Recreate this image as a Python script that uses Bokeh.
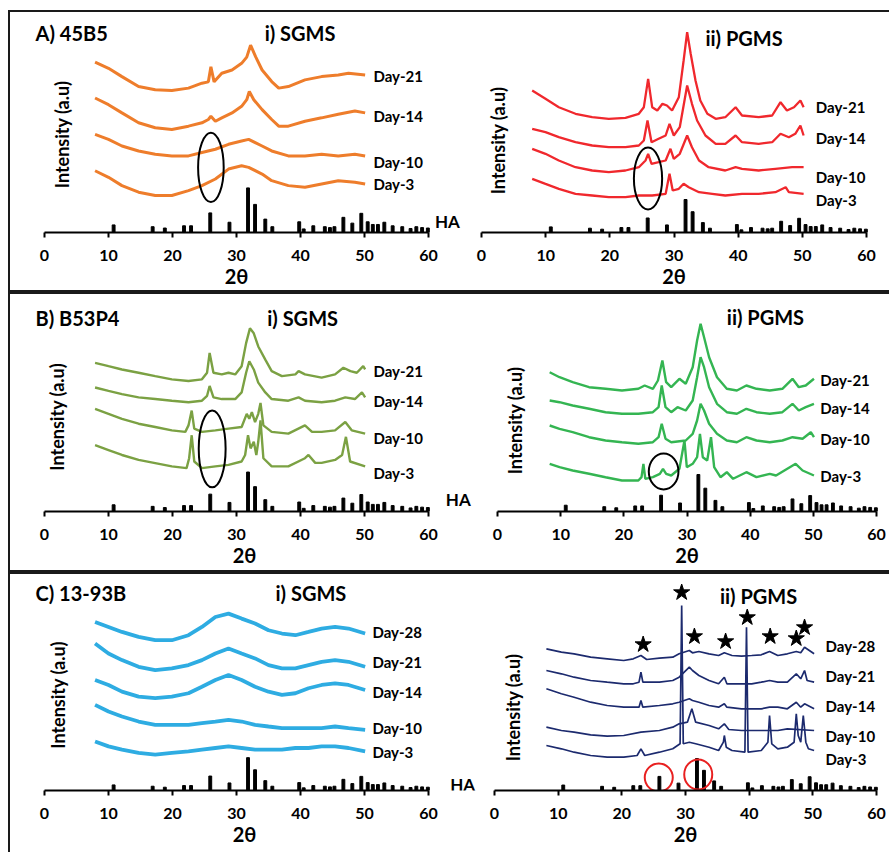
import math
from bokeh.plotting import figure
from bokeh.models import Range1d, FixedTicker
from bokeh.layouts import row, column
from bokeh.core.properties import value
from bokeh.embed import file_html
from bokeh.resources import INLINE

FONT = "Lato"
XTICKS = [0, 10, 20, 30, 40, 50, 60]

# ---------------- HA reference pattern (relative intensity, %) ----------------
HA_POS = [10.8, 16.9, 18.8, 21.8, 22.9, 25.9, 28.9, 31.8, 32.9, 34.5,
          35.6, 39.8, 40.5, 42.0, 43.8, 44.6, 45.3, 46.7, 48.1, 49.5,
          50.5, 51.3, 52.1, 53.1, 54.4, 55.9, 57.2, 58.1, 59.0, 59.9]
HA_INT = [17, 13, 10, 15, 15, 44, 23, 100, 63, 30,
          13, 24, 8, 15, 13, 11, 13, 34, 21, 43,
          24, 18, 18, 23, 15, 13, 9, 13, 11, 10]

# ---------------- A) 45B5  i) SGMS ----------------
A_S_D21_X = [7.9, 10.0, 12.1, 14.7, 17.3, 19.9, 22.5, 24.6, 25.6, 26.0, 26.5, 27.7, 29.3, 30.8, 31.6, 32.2, 33.0, 34.0, 35.5, 36.6, 38.1, 40.7, 43.3, 45.9, 47.5, 50.1]
A_S_D21_Y = [172, 165.7, 157.3, 147.3, 144, 143.3, 145.7, 150.7, 152, 167.3, 152, 160.7, 164, 170.7, 177, 189, 177.3, 164, 152.3, 145.7, 147.3, 154, 157.3, 159, 160.7, 159]
A_S_D14_X = [7.9, 10.0, 12.1, 14.7, 17.3, 19.9, 22.5, 24.6, 25.6, 26.0, 26.7, 27.7, 29.3, 30.8, 31.6, 32.0, 32.7, 34.0, 35.5, 36.6, 38.1, 40.7, 43.3, 45.9, 48.5, 50.1]
A_S_D14_Y = [135.7, 129, 120.7, 110.7, 105.7, 104, 107.3, 110.7, 114, 117.3, 112.3, 115.7, 120.7, 127.3, 134, 142.3, 134, 124, 114, 107.3, 107.3, 112.3, 115.7, 119.3, 122.7, 120.7]
A_S_X = [7.9, 10.0, 12.1, 14.7, 17.3, 19.9, 22.5, 24.6, 26.7, 28.75, 30.8, 31.9, 34.0, 35.5, 38.1, 40.7, 43.3, 45.9, 48.5, 50.1]
A_S_D10_Y = [99, 94, 87.3, 82.3, 79, 77.3, 77.3, 80.7, 84, 89, 92.3, 94, 87.3, 82.3, 77.3, 77.3, 79, 77.3, 79, 77.3]
A_S_D3_Y = [62.3, 55.7, 47.3, 40.7, 37.3, 37.3, 42.3, 47.3, 54, 64, 67.3, 65.7, 59, 52.3, 47.3, 45.7, 49, 52.3, 50.7, 49]

# ---------------- A) 45B5  ii) PGMS ----------------
A_P_D21_X = [7.9, 9.97, 12.05, 14.65, 17.25, 19.84, 22.44, 24.52, 25.3, 25.97, 26.6, 27.4, 28.2, 28.9, 29.7, 30.75, 31.5, 32.05, 32.6, 33.35, 34.1, 35.2, 36.5, 38.0, 39.6, 40.6, 43.2, 45.3, 46.6, 47.6, 48.7, 49.7, 50.2]
A_P_D21_Y = [142, 133.7, 125.3, 118.7, 115.3, 113.7, 114.7, 118.7, 125.3, 153.7, 125.3, 122, 128.7, 127, 122, 135.3, 172, 200.3, 178.7, 152, 132, 118.7, 113.7, 115.3, 125.3, 117, 115.3, 117, 130.3, 122, 125.3, 132, 125.3]
A_P_D14_X = [7.9, 9.97, 12.05, 14.65, 17.25, 19.84, 22.44, 24.52, 25.3, 25.87, 26.5, 27.6, 28.7, 29.3, 29.97, 30.9, 32.05, 32.8, 33.6, 34.9, 36.5, 38.0, 39.6, 40.6, 43.2, 45.3, 46.6, 47.9, 48.9, 49.7, 50.2]
A_P_D14_Y = [103.7, 100.3, 95.3, 90.3, 87, 85.3, 85.3, 87, 92, 112, 90.3, 93.7, 97, 108.7, 97, 105.3, 147, 128.7, 112, 97, 88.7, 88.7, 97, 90.3, 88.7, 90.3, 98.7, 95.3, 98.7, 107, 97]
A_P_D10_X = [7.9, 9.97, 12.05, 14.65, 17.25, 19.84, 22.44, 24.52, 25.56, 25.97, 26.5, 27.6, 28.7, 29.45, 29.97, 30.9, 32.05, 32.8, 33.9, 35.4, 38.0, 39.6, 40.6, 43.2, 45.8, 48.4, 50.2]
A_P_D10_Y = [83.7, 78.7, 72, 65.3, 62, 60.3, 62, 65.3, 72, 78.7, 68.7, 70.3, 72, 83.7, 73.7, 78.7, 97, 85.3, 72, 65.3, 62, 65.3, 63.7, 62, 63.7, 65.3, 65.3]
A_P_D3_X = [7.9, 9.97, 12.05, 14.65, 17.25, 19.84, 22.44, 24.52, 26.6, 28.7, 29.3, 29.8, 30.75, 31.5, 32.3, 33.9, 35.95, 38.0, 40.6, 43.2, 45.8, 47.4, 47.9, 50.2]
A_P_D3_Y = [53.7, 48.7, 43.7, 38.7, 37, 35.3, 35.3, 37, 37, 38.7, 58.7, 42, 43.7, 48.7, 45.3, 40.3, 38.7, 37, 38.7, 38.7, 40.3, 45.3, 40.3, 38.7]

# ---------------- B) B53P4  i) SGMS ----------------
B_S_D21_X = [7.9, 10.0, 12.1, 14.7, 17.3, 19.9, 22.5, 24.6, 25.4, 25.8, 26.4, 27.7, 28.75, 29.8, 30.8, 31.5, 32.1, 32.7, 33.4, 34.5, 35.5, 37.1, 39.2, 39.7, 40.7, 43.3, 45.4, 46.7, 47.8, 48.8, 49.8, 50.1]
B_S_D21_Y = [150.7, 147.3, 144, 140.7, 137.3, 134, 132.3, 134, 140.7, 160.7, 140.7, 139, 140.7, 139, 147.3, 170.7, 185.7, 180.7, 167.3, 154, 142.3, 137.3, 139, 142.3, 139, 135.7, 139, 145.7, 142.3, 140.7, 147.3, 144]
B_S_D14_X = [7.9, 10.0, 12.1, 14.7, 17.3, 19.9, 22.5, 24.6, 25.4, 25.8, 26.4, 27.7, 29.8, 30.8, 31.5, 32.0, 32.7, 33.4, 34.5, 35.5, 38.1, 39.7, 40.7, 43.3, 45.4, 47.0, 48.5, 49.6, 50.1]
B_S_D14_Y = [125.7, 122.3, 119, 115.7, 114, 112.3, 110.7, 112.3, 117.3, 127.3, 115.7, 114, 114, 120.7, 140.7, 152.3, 144, 130.7, 120.7, 114, 112.3, 115.7, 112.3, 110.7, 112.3, 115.7, 114, 120.7, 115.7]
B_S_D10_X = [7.9, 10.0, 12.1, 14.7, 17.3, 19.9, 22.0, 22.5, 23.0, 23.4, 24.6, 26.7, 28.75, 30.8, 31.6, 32.0, 32.4, 32.9, 33.4, 33.75, 34.2, 35.5, 38.1, 40.7, 41.8, 43.3, 45.4, 47.0, 48.0, 50.1]
B_S_D10_Y = [104, 99, 94, 89, 85.7, 82.3, 80.7, 87.3, 102.3, 84, 80.7, 82.3, 84, 85.7, 99, 94, 100.7, 90.7, 99, 110, 87.3, 80.7, 79, 87.3, 80.7, 80.7, 82.3, 90.7, 82.3, 79]
B_S_D3_X = [7.9, 10.0, 12.1, 14.7, 17.3, 19.9, 22.2, 22.6, 23.0, 23.4, 24.6, 26.7, 28.75, 30.8, 31.35, 31.8, 32.2, 32.7, 33.1, 33.4, 33.75, 34.2, 35.5, 38.1, 40.7, 41.25, 42.3, 43.3, 45.4, 46.5, 47.1, 47.75, 50.1]
B_S_D3_Y = [67.3, 62.3, 57.3, 52.3, 49, 45.7, 44, 54, 77.3, 50.7, 44, 45.7, 47.3, 50.7, 57.3, 77.3, 64, 70.7, 57.3, 70.7, 92.3, 54, 45.7, 45.7, 54, 57.3, 49.3, 49.3, 52.3, 57.3, 75.7, 50.7, 45.7]

# ---------------- B) B53P4  ii) PGMS ----------------
B_P_D21_X = [8.26, 9.82, 11.9, 14.5, 17.1, 19.7, 22.3, 23.3, 24.6, 25.4, 26.1, 26.7, 27.5, 28.8, 29.8, 30.9, 31.6, 32.15, 32.7, 33.5, 34.75, 36.3, 37.9, 39.4, 41.0, 43.1, 45.1, 46.7, 47.7, 48.8, 50.1]
B_P_D21_Y = [139.3, 134.3, 129.3, 124.3, 122.7, 121, 122.7, 126, 122.7, 131, 151, 129.3, 124.3, 132.7, 127.7, 144.3, 171, 187.7, 174.3, 154.3, 134.3, 122.7, 121, 126, 122.7, 121, 122.7, 132.7, 124.3, 126, 132.7]
B_P_D14_X = [8.26, 9.82, 11.9, 14.5, 17.1, 19.7, 22.3, 24.6, 25.5, 26.0, 26.6, 27.5, 28.5, 29.8, 30.9, 31.6, 32.15, 32.7, 33.5, 34.75, 36.3, 37.9, 39.4, 41.0, 43.1, 45.1, 46.7, 47.7, 48.8, 50.1]
B_P_D14_Y = [111, 109.3, 106, 102.7, 99.3, 97.7, 97.7, 99.3, 104.3, 126, 104.3, 99.3, 104.3, 101, 111, 134.3, 154.3, 144.3, 124.3, 107.7, 99.3, 97.7, 102.7, 99.3, 97.7, 99.3, 107.7, 101, 104.3, 107.7]
B_P_D10_X = [8.26, 9.82, 11.9, 14.5, 17.1, 19.7, 22.3, 24.6, 25.5, 26.0, 26.6, 27.5, 29.8, 30.9, 31.6, 32.15, 32.7, 33.5, 34.75, 36.3, 37.9, 39.4, 41.0, 43.1, 45.1, 46.7, 48.3, 49.6, 50.1]
B_P_D10_Y = [86, 82.7, 79.3, 74.3, 71, 69.3, 67.7, 69.3, 74.3, 87.7, 72.7, 69.3, 71, 77.7, 91, 107.7, 101, 87.7, 77.7, 71, 69.3, 74.3, 71, 69.3, 71, 74.3, 72.7, 79.3, 74.3]
B_P_D3_X = [8.26, 9.82, 11.9, 14.5, 17.1, 19.7, 22.3, 22.8, 23.1, 23.4, 24.6, 25.7, 26.2, 26.7, 27.5, 28.8, 29.6, 29.97, 30.9, 31.6, 32.05, 32.5, 33.2, 33.8, 34.3, 35.3, 36.3, 37.3, 39.4, 41.0, 43.1, 44.1, 47.2, 48.3, 50.1]
B_P_D3_Y = [47.7, 44.3, 41, 37.7, 34.3, 31, 31, 34.3, 47.7, 32.7, 34.3, 37.7, 42.7, 37.7, 36, 42.7, 71, 44.3, 47.7, 54.3, 77.7, 54.3, 51, 74.3, 44.3, 34.3, 39.3, 32.7, 39.3, 34.3, 37.7, 36, 47.7, 41, 36]

# ---------------- C) 13-93B  i) SGMS ----------------
C_S_X = [7.9, 10.0, 12.1, 14.7, 17.3, 19.9, 22.5, 24.6, 26.7, 28.75, 30.8, 32.9, 35.0, 37.1, 39.2, 41.25, 43.3, 45.4, 47.5, 50.1]
C_S_D28_Y = [169.3, 164.3, 159.3, 154.3, 151, 151, 156, 164.3, 174.3, 177.7, 172.7, 167.7, 161, 157.7, 156, 159.3, 162.7, 164.3, 162.7, 157.7]
C_S_D21_Y = [147.7, 137.7, 131, 124.3, 121, 122.7, 126, 131, 137.7, 142.7, 137.7, 132.7, 126, 122.7, 122.7, 126, 129.3, 131, 129.3, 124.3]
C_S_D14_Y = [111, 106, 99.3, 94.3, 92.7, 94.3, 97.7, 104.3, 111, 116, 111, 104.3, 99.3, 96, 97.7, 102.7, 106, 107.7, 106, 101]
C_S_D10_Y = [86, 79.3, 74.3, 69.3, 66, 66, 66, 67.7, 69.3, 71, 69.3, 66, 64.3, 62.7, 62.7, 62.7, 62.7, 64.3, 62.7, 61]
C_S_D3_Y = [49.3, 44.3, 41, 37.7, 36, 37.7, 39.3, 41, 42.7, 44.3, 42.7, 41, 41, 41, 42.7, 42.7, 44.3, 44.3, 42.7, 39.3]

# ---------------- C) 13-93B  ii) PGMS ----------------
C_P_D28_X = [8.15, 10.5, 12.5, 15.1, 17.7, 20.3, 21.8, 23.0, 23.9, 25.9, 28.0, 29.0, 30.6, 31.1, 32.1, 33.7, 35.2, 36.1, 37.3, 38.8, 40.4, 41.9, 43.2, 44.5, 46.0, 47.4, 48.1, 48.7, 50.2]
C_P_D28_Y = [141.7, 138.3, 136.7, 133.3, 131.7, 130, 131.7, 135, 131, 132.3, 133.3, 136.7, 140, 137.7, 139, 136.7, 135, 137.7, 135, 134.3, 135, 135.7, 139, 135, 136.7, 139, 137.7, 143.3, 136.7]
C_P_D21_X = [8.15, 10.5, 12.5, 15.1, 17.7, 20.3, 21.8, 22.7, 23.0, 23.3, 25.9, 28.0, 29.0, 30.6, 31.1, 32.1, 33.7, 35.2, 36.1, 36.5, 38.8, 40.4, 41.9, 43.2, 44.5, 46.0, 47.4, 48.1, 48.7, 49.1, 50.2]
C_P_D21_Y = [120, 116.7, 113.3, 110, 108.3, 106.7, 106.7, 108.3, 118.3, 108.3, 108.3, 110, 113.3, 123.3, 120, 115, 110, 106.7, 113.3, 106.7, 106.7, 106.7, 108.3, 110, 108.3, 108.3, 116.7, 111.7, 120, 110, 108.3]
C_P_D14_X = [8.15, 10.5, 12.5, 15.1, 17.7, 20.3, 22.7, 23.0, 23.3, 25.9, 28.0, 29.0, 30.6, 31.1, 32.1, 33.7, 35.2, 36.1, 36.5, 38.8, 40.4, 41.9, 43.2, 44.5, 46.0, 47.4, 48.1, 48.7, 50.2]
C_P_D14_Y = [101.7, 96.7, 93.3, 88.3, 85, 83.3, 83.3, 90, 83.3, 85, 86.7, 88.3, 91.7, 90, 88.3, 85, 83.3, 86.7, 83.3, 81.7, 81.7, 81.7, 83.3, 83.3, 81.7, 88.3, 83.3, 86.7, 81.7]
C_P_D10_X = [8.15, 10.5, 12.5, 15.1, 17.7, 20.3, 23.0, 25.9, 28.0, 29.0, 30.3, 31.0, 31.6, 33.7, 35.2, 36.1, 36.8, 38.8, 40.4, 41.9, 44.5, 46.0, 50.2]
C_P_D10_Y = [63.3, 60, 58.3, 55.7, 54.3, 55, 58.3, 60, 63.3, 66.7, 68.3, 81.7, 68.3, 65, 61.7, 66.7, 61, 60, 60, 60, 60, 61.7, 60]
C_P_D3_X = [8.15, 10.5, 12.5, 15.1, 17.7, 20.3, 22.4, 23.0, 23.6, 25.9, 28.0, 29.15, 29.4, 29.65, 30.6, 31.6, 33.7, 35.2, 35.95, 36.1, 36.4, 37.3, 39.33, 39.58, 39.83, 41.9, 42.94, 43.2, 43.55, 44.5, 46.0, 47.06, 47.4, 47.7, 48.1, 48.5, 48.9, 49.3, 50.2]
C_P_D3_Y = [45, 41.7, 38.3, 35, 33.3, 33.3, 35, 41.7, 35, 38.3, 41.7, 46.7, 185, 46.7, 48.3, 46.7, 43.3, 40, 48.3, 55, 43.3, 40, 38.3, 163.3, 38.3, 40, 48.3, 75, 46.7, 41.7, 43.3, 48.3, 76.7, 55, 48.3, 75, 48.3, 41.7, 40]
C_P_STAR_X = [23.35, 29.4, 31.4, 36.3, 39.7, 43.3, 47.4, 48.7]
C_P_STAR_Y = [146, 198, 154, 149, 173, 154, 152, 163]

DAYS4 = ["Day-21", "Day-14", "Day-10", "Day-3"]
DAYS5 = ["Day-28", "Day-21", "Day-14", "Day-10", "Day-3"]


def make_panel(fig_left, fig_w, fig_h, axis_from_top, zero_px, sixty_px, pad_l=0, pad_r=0):
    sx = (sixty_px - zero_px) / 60.0
    f_left = fig_left + pad_l
    f_right = fig_left + fig_w - pad_r
    x0 = (f_left - zero_px) / sx
    x1 = (f_right - zero_px) / sx
    p = figure(width=fig_w, height=fig_h, x_range=Range1d(x0, x1),
               y_range=Range1d(0, axis_from_top), output_backend="svg",
               toolbar_location=None, y_axis_location=None,
               min_border_left=pad_l, min_border_right=pad_r, min_border_top=0,
               min_border_bottom=fig_h - axis_from_top,
               outline_line_color=None, background_fill_color="white",
               border_fill_color="white")
    p.xgrid.visible = False
    p.ygrid.visible = False
    ax = p.xaxis[0]
    ax.bounds = (0, 60)
    ax.ticker = FixedTicker(ticks=XTICKS)
    ax.axis_line_width = 2
    ax.axis_line_color = "black"
    ax.major_tick_line_width = 2
    ax.major_tick_line_color = "black"
    ax.major_tick_out = 5
    ax.major_tick_in = 0
    ax.minor_tick_line_color = None
    ax.major_label_text_font = FONT
    ax.major_label_text_font_size = "16px"
    ax.major_label_text_font_style = "bold"
    ax.major_label_text_color = "black"
    ax.major_label_standoff = 12
    ax.axis_label = "2θ"
    ax.axis_label_text_font = FONT
    ax.axis_label_text_font_size = "20px"
    ax.axis_label_text_font_style = "bold"
    ax.axis_label_text_color = "black"
    ax.axis_label_standoff = 0
    return p


def txt(p, x, y, s, size, align="left", angle=0.0):
    p.text(x=x, y=y, text=s, text_font=value(FONT), text_font_size=size,
           text_font_style="bold", text_color="black", text_align=align,
           text_baseline="middle", angle=angle)


def ha_bars(p, scale):
    p.vbar(x=HA_POS, top=[v * scale / 100.0 for v in HA_INT], bottom=0,
           width=0.45, color="black")


def panel(geom, series, color, lw, ha_scale, days, day_x, day_y, title_x, title_y, title,
          ylab_x, ylab_y, header=None, ha_label=None):
    p = make_panel(*geom)
    for xs, ys in series:
        p.line(xs, ys, line_color=color, line_width=lw)
    ha_bars(p, ha_scale)
    txt(p, [day_x] * len(days), day_y, days, "15px")
    txt(p, [title_x], [title_y], [title], "20px")
    if header is not None:
        txt(p, [header[0]], [header[1]], [header[2]], "20px")
    if ha_label is not None:
        txt(p, [ha_label[0]], [ha_label[1]], ["HA"], "17px")
    txt(p, [ylab_x], [ylab_y], ["Intensity (a.u)"], "18px", align="center", angle=math.pi / 2)
    return p


# Row A (content: page y 12..290)
pA1 = panel((10, 460, 278, 222, 44, 428, 0, 8),
            [(A_S_D21_X, A_S_D21_Y), (A_S_D14_X, A_S_D14_Y), (A_S_X, A_S_D10_Y), (A_S_X, A_S_D3_Y)],
            "#EE7D2B", 3.0, 45, DAYS4, 51.4, [158, 118, 71, 49],
            34.4, 201, "i) SGMS", 2.8, 99, header=(-1.4, 201, "A) 45B5"), ha_label=(61.0, 11))
pA1.ellipse(x=[26.0], y=[65.7], width=4.0, height=70, fill_color=None, line_color="black", line_width=2)

pA2 = panel((470, 419, 278, 220, 481, 866, 0, 12),
            [(A_P_D21_X, A_P_D21_Y), (A_P_D14_X, A_P_D14_Y), (A_P_D10_X, A_P_D10_Y), (A_P_D3_X, A_P_D3_Y)],
            "#F0282D", 2.3, 33, DAYS4, 52.1, [126, 95, 56, 33],
            34.9, 195, "ii) PGMS", 2.5, 92)
pA2.ellipse(x=[25.95], y=[54], width=4.4, height=62, fill_color=None, line_color="black", line_width=2)

# Row B (content: page y 294..570)
pB1 = panel((10, 468, 276, 220, 44, 428, 0, 0),
            [(B_S_D21_X, B_S_D21_Y), (B_S_D14_X, B_S_D14_Y), (B_S_D10_X, B_S_D10_Y), (B_S_D3_X, B_S_D3_Y)],
            "#7BA143", 2.4, 40, DAYS4, 51.4, [142, 112, 75, 39],
            34.8, 196, "i) SGMS", 2.0, 96, header=(-1.4, 196, "B) B53P4"), ha_label=(62.7, 12))
pB1.ellipse(x=[26.2], y=[63.5], width=4.2, height=78, fill_color=None, line_color="black", line_width=2)

pB2 = panel((478, 411, 276, 217, 497, 876, 6, 0),
            [(B_P_D21_X, B_P_D21_Y), (B_P_D14_X, B_P_D14_Y), (B_P_D10_X, B_P_D10_Y), (B_P_D3_X, B_P_D3_Y)],
            "#34B552", 2.4, 37, DAYS4, 51.1, [132, 104, 73, 36],
            36.3, 195, "ii) PGMS", 2.7, 91)
pB2.ellipse(x=[26.3], y=[40], width=4.7, height=36, fill_color=None, line_color="black", line_width=2)

# Row C (content: page y 574..852)
pC1 = panel((10, 468, 278, 217, 44, 428, 0, 0),
            [(C_S_X, C_S_D28_Y), (C_S_X, C_S_D21_Y), (C_S_X, C_S_D14_Y), (C_S_X, C_S_D10_Y), (C_S_X, C_S_D3_Y)],
            "#2EACE2", 3.8, 33, DAYS5, 51.25, [159, 129, 99, 63, 39],
            36.1, 198, "i) SGMS", 2.1, 96, header=(-1.4, 198, "C) 13-93B"), ha_label=(63.4, 6))

pC2 = panel((478, 411, 278, 216, 494, 876, 3, 0),
            [(C_P_D28_X, C_P_D28_Y), (C_P_D21_X, C_P_D21_Y), (C_P_D14_X, C_P_D14_Y), (C_P_D10_X, C_P_D10_Y), (C_P_D3_X, C_P_D3_Y)],
            "#1C2A6E", 1.7, 32, DAYS5, 52.0, [145, 115, 85, 55, 32],
            35.4, 195, "ii) PGMS", 2.9, 83)
pC2.scatter(x=C_P_STAR_X, y=C_P_STAR_Y, marker="star", size=17, color="black")
pC2.ellipse(x=[25.8, 32.0], y=[13, 16], width=4.4, height=[28, 30], fill_color=None,
            line_color="#E82020", line_width=2)

BOX = {"border": "2px solid #1a1a1a", "border-right": "none"}
BOX_LAST = {"border": "2px solid #1a1a1a", "border-right": "none", "border-bottom": "none"}
layout = column(
    row(pA1, pA2, styles=BOX),
    row(pB1, pB2, styles=BOX),
    row(pC1, pC2, styles=BOX_LAST),
    margin=(10, 0, 0, 8),
)

open("out.html", "w").write(file_html(layout, INLINE))
